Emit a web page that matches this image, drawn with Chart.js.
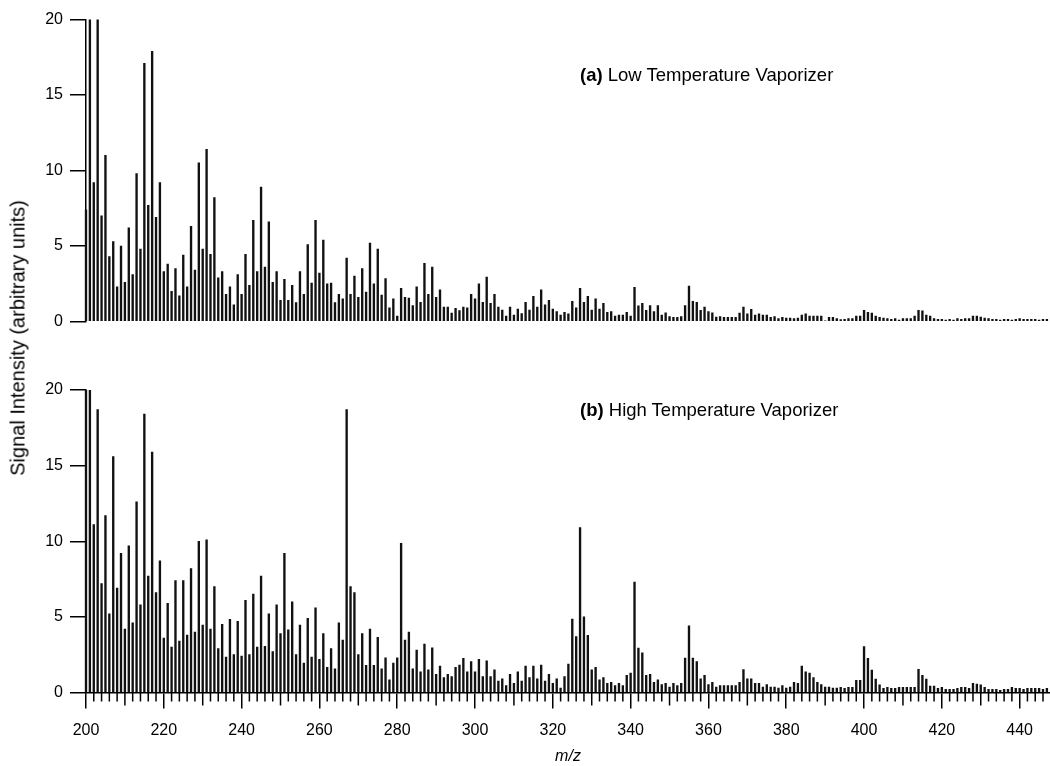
<!DOCTYPE html>
<html>
<head>
<meta charset="utf-8">
<script src="https://cdn.jsdelivr.net/npm/chart.js@4.4.0/dist/chart.umd.min.js"></script>
<style>
  html, body { margin: 0; padding: 0; background: #fff; }
  body { width: 1050px; height: 766px; position: relative; overflow: hidden;
         font-family: "Liberation Sans", Arial, Helvetica, sans-serif; color: #000; }
  #c1 { position: absolute; left: 0; top: 0; }
  #c2 { position: absolute; left: 0; top: 340px; }
  .panel { position: absolute; left: 580px; font-size: 18.5px; line-height: 20px; white-space: nowrap; }
  #ytitle { position: absolute; left: 18px; top: 338px; font-size: 20px; white-space: nowrap;
            transform: translate(-50%, -50%) rotate(-90deg); }
</style>
</head>
<body>
<canvas id="c1" width="1050" height="340"></canvas>
<canvas id="c2" width="1050" height="426"></canvas>
<div class="panel" style="top:65px"><b>(a)</b> Low Temperature Vaporizer</div>
<div class="panel" style="top:400px"><b>(b)</b> High Temperature Vaporizer</div>
<div id="ytitle">Signal Intensity (arbitrary units)</div>
<script>
// ---- data ----
const mzFirst = 200;
const mzLast = 447;
const mzValues = [];
for (let m = mzFirst; m <= mzLast; m++) mzValues.push(m);

const xTickLabels = [200, 220, 240, 260, 280, 300, 320, 340, 360, 380, 400, 420, 440];
const yTickLabels = [0, 5, 10, 15, 20];

// (a) Low Temperature Vaporizer, m/z 200..447
const lowTemp = [
  7.4, 21, 9.2, 21, 7.0, 11.0, 4.3, 5.3, 2.3, 5.0,
  2.6, 6.2, 3.1, 9.8, 4.8, 17.1, 7.7, 17.9, 6.9, 9.2,
  3.3, 3.8, 2.0, 3.5, 1.7, 4.4, 2.3, 6.3, 3.4, 10.5,
  4.8, 11.4, 4.45, 8.2, 2.9, 3.3, 1.8, 2.3, 1.1, 3.1,
  1.8, 4.45, 2.4, 6.7, 3.3, 8.9, 3.6, 6.6, 2.6, 3.3,
  1.4, 2.8, 1.4, 2.4, 1.25, 3.3, 1.8, 5.1, 2.55, 6.7,
  3.2, 5.4, 2.5, 2.55, 1.25, 1.8, 1.5, 4.2, 1.8, 3.0,
  1.6, 3.5, 1.95, 5.2, 2.5, 4.8, 1.75, 2.85, 0.9, 1.5,
  0.36, 2.2, 1.6, 1.55, 1.05, 2.3, 1.27, 3.85, 1.8, 3.6,
  1.6, 2.1, 0.96, 0.96, 0.56, 0.87, 0.72, 0.96, 0.9, 1.8,
  1.5, 2.5, 1.27, 2.95, 1.2, 1.8, 0.96, 0.75, 0.36, 0.96,
  0.43, 0.82, 0.52, 1.27, 0.75, 1.67, 0.96, 2.1, 1.1, 1.4,
  0.82, 0.65, 0.43, 0.6, 0.5, 1.33, 0.9, 2.2, 1.27, 1.67,
  0.75, 1.5, 0.82, 1.2, 0.6, 0.65, 0.36, 0.43, 0.43, 0.6,
  0.36, 2.26, 1.03, 1.2, 0.74, 1.05, 0.65, 1.05, 0.43, 0.58,
  0.33, 0.28, 0.28, 0.33, 1.05, 2.35, 1.33, 1.27, 0.74, 0.96,
  0.65, 0.58, 0.3, 0.33, 0.28, 0.28, 0.28, 0.28, 0.55, 0.96,
  0.5, 0.8, 0.43, 0.5, 0.43, 0.42, 0.28, 0.33, 0.19, 0.28,
  0.23, 0.23, 0.19, 0.23, 0.43, 0.5, 0.36, 0.36, 0.36, 0.36,
  0.05, 0.28, 0.28, 0.19, 0.12, 0.15, 0.19, 0.19, 0.36, 0.36,
  0.74, 0.6, 0.55, 0.36, 0.28, 0.23, 0.19, 0.15, 0.19, 0.1,
  0.19, 0.19, 0.19, 0.36, 0.74, 0.7, 0.43, 0.36, 0.19, 0.15,
  0.15, 0.1, 0.15, 0.1, 0.19, 0.15, 0.19, 0.19, 0.36, 0.36,
  0.3, 0.23, 0.19, 0.15, 0.15, 0.1, 0.15, 0.15, 0.1, 0.15,
  0.19, 0.15, 0.15, 0.15, 0.15, 0.1, 0.15, 0.15
];

// (b) High Temperature Vaporizer, m/z 200..447
const highTemp = [
  21, 21, 11.1, 18.7, 7.2, 11.7, 5.2, 15.6, 6.9, 9.2,
  4.2, 9.7, 4.6, 12.6, 5.8, 18.4, 7.7, 15.9, 6.6, 8.7,
  3.6, 5.9, 3.0, 7.4, 3.4, 7.4, 3.8, 8.2, 4.0, 10.0,
  4.46, 10.1, 4.2, 7.0, 2.9, 4.5, 2.35, 4.84, 2.5, 4.7,
  2.4, 6.1, 2.5, 6.5, 3.0, 7.7, 3.05, 5.2, 2.7, 5.8,
  3.9, 9.2, 4.15, 6.0, 2.5, 4.46, 1.95, 4.9, 2.35, 5.6,
  2.2, 3.9, 1.67, 2.9, 1.57, 4.6, 3.47, 18.7, 7.0, 6.6,
  2.5, 3.9, 1.8, 4.2, 1.8, 3.65, 1.57, 2.3, 0.83, 1.95,
  2.3, 9.87, 3.47, 4.0, 1.57, 2.8, 1.36, 3.2, 1.5, 2.96,
  1.2, 1.75, 0.98, 1.2, 1.05, 1.67, 1.82, 2.26, 1.36, 2.04,
  1.36, 2.2, 1.05, 2.1, 1.05, 1.5, 0.76, 0.9, 0.45, 1.2,
  0.6, 1.36, 0.76, 1.75, 0.98, 1.75, 0.9, 1.82, 0.76, 1.2,
  0.6, 0.9, 0.3, 1.05, 1.88, 4.86, 3.7, 10.9, 5.0, 3.78,
  1.5, 1.67, 0.83, 0.98, 0.6, 0.67, 0.45, 0.6, 0.45, 1.13,
  1.29, 7.3, 2.94, 2.63, 1.13, 1.2, 0.67, 0.83, 0.52, 0.6,
  0.36, 0.6, 0.45, 0.6, 2.28, 4.4, 2.28, 2.04, 0.9, 1.13,
  0.52, 0.67, 0.36, 0.45, 0.45, 0.45, 0.45, 0.45, 0.67, 1.51,
  0.9, 0.9, 0.6, 0.6, 0.36, 0.52, 0.36, 0.36, 0.3, 0.45,
  0.3, 0.36, 0.67, 0.6, 1.75, 1.36, 1.29, 0.98, 0.67, 0.52,
  0.36, 0.36, 0.3, 0.3, 0.35, 0.28, 0.34, 0.34, 0.8, 0.8,
  3.03, 2.26, 1.49, 0.89, 0.5, 0.28, 0.34, 0.28, 0.28, 0.34,
  0.34, 0.34, 0.34, 0.34, 1.53, 1.13, 0.89, 0.43, 0.43, 0.28,
  0.34, 0.21, 0.21, 0.21, 0.28, 0.34, 0.34, 0.28, 0.6, 0.55,
  0.5, 0.34, 0.21, 0.21, 0.21, 0.15, 0.21, 0.21, 0.34, 0.28,
  0.28, 0.21, 0.28, 0.28, 0.28, 0.28, 0.21, 0.28
];

// ---- chart setup ----
const FONT = '"Liberation Sans", Arial, Helvetica, sans-serif';
Chart.defaults.font.family = FONT;
Chart.defaults.font.size = 16;
Chart.defaults.color = '#000';
Chart.defaults.animation = false;

const X_MIN = 200, X_MAX = 447.8;

function points(vals) {
  return mzValues.map((m, i) => ({ x: m, y: vals[i] }));
}

// minor (every 2) and medium (every 10) ticks on the m/z axis
const minorTicks = {
  id: 'minorTicks',
  afterDraw(chart, args, opts) {
    if (!opts || !opts.enabled) return;
    const xs = chart.scales.x;
    const ctx = chart.ctx;
    const y0 = chart.chartArea.bottom;
    ctx.save();
    ctx.strokeStyle = '#000';
    ctx.lineWidth = 1.5;
    for (let v = X_MIN; v <= xs.max; v += 2) {
      if (xTickLabels.includes(v)) continue;
      const len = (v % 10 === 0) ? 13 : 9;
      const px = xs.getPixelForValue(v);
      ctx.beginPath();
      ctx.moveTo(px, y0);
      ctx.lineTo(px, y0 + len);
      ctx.stroke();
    }
    ctx.restore();
  }
};

function yAxis() {
  return {
    type: 'linear', min: 0, max: 20,
    afterBuildTicks: (s) => { s.ticks = yTickLabels.map(v => ({ value: v })); },
    ticks: { padding: 7, color: '#000', font: { size: 16 } },
    grid: { drawOnChartArea: false, drawTicks: true, tickLength: 16, color: '#000', lineWidth: 1.5 },
    border: { display: true, color: '#000', width: 1.5 },
    afterFit: (s) => { s.width = 86; }
  };
}

function dataset(vals) {
  return {
    data: points(vals),
    backgroundColor: '#111',
    borderWidth: 0,
    barThickness: 1.7,
    grouped: false,
    clip: { left: 3, top: 0, right: 3, bottom: 0 }
  };
}

// top panel (a)
new Chart(document.getElementById('c1'), {
  type: 'bar',
  data: { datasets: [dataset(lowTemp)] },
  options: {
    responsive: false,
    layout: { padding: { top: 19.5, bottom: 18.5, left: 0, right: 0 } },
    plugins: { legend: { display: false }, tooltip: { enabled: false } },
    scales: {
      x: { type: 'linear', min: X_MIN, max: X_MAX, display: false, offset: false, grid: { offset: false } },
      y: yAxis()
    }
  }
});

// bottom panel (b)
new Chart(document.getElementById('c2'), {
  type: 'bar',
  data: { datasets: [dataset(highTemp)] },
  options: {
    responsive: false,
    layout: { padding: { top: 50, bottom: 0, left: 0, right: 0 } },
    plugins: { legend: { display: false }, tooltip: { enabled: false }, minorTicks: { enabled: true } },
    scales: {
      x: {
        type: 'linear', min: X_MIN, max: X_MAX, position: 'bottom', offset: false,
        afterBuildTicks: (s) => { s.ticks = xTickLabels.map(v => ({ value: v })); },
        ticks: { autoSkip: false, maxRotation: 0, padding: 12, color: '#000', font: { size: 16 },
                 callback: (v) => String(v) },
        grid: { offset: false, drawOnChartArea: false, drawTicks: true, tickLength: 16, color: '#000', lineWidth: 1.5 },
        border: { display: true, color: '#000', width: 1.5 },
        title: { display: true, text: 'm/z', color: '#000', font: { size: 16, style: 'italic' },
                 padding: { top: 0, bottom: 0 } },
        afterFit: (s) => { s.height = 73.5; }
      },
      y: yAxis()
    }
  },
  plugins: [minorTicks]
});
</script>
</body>
</html>
